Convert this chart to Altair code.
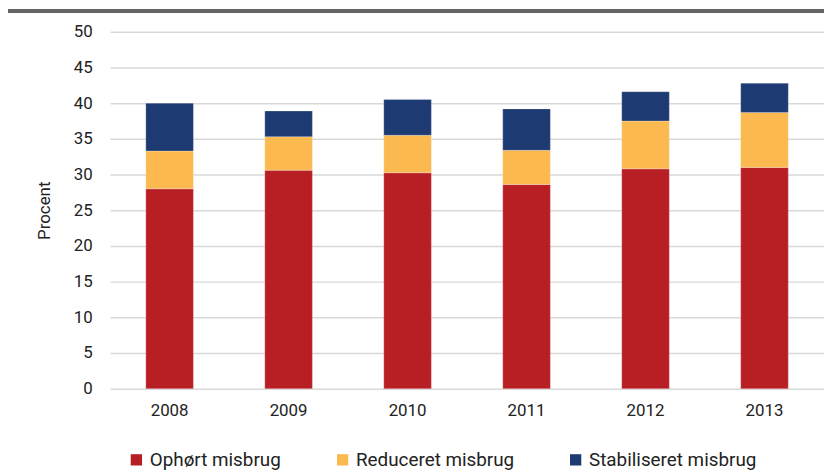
import altair as alt
import pandas as pd

years = ["2008", "2009", "2010", "2011", "2012", "2013"]
series = ["Ophørt misbrug", "Reduceret misbrug", "Stabiliseret misbrug"]
ophoert = [28.0, 30.6, 30.25, 28.6, 30.8, 31.0]
reduceret = [5.3, 4.7, 5.25, 4.8, 6.7, 7.7]
stabiliseret = [6.7, 3.6, 5.0, 5.8, 4.1, 4.1]
colors = ["#b71f24", "#fbb950", "#1d3b72"]

rows = []
for vals, name, k in zip([ophoert, reduceret, stabiliseret], series, range(3)):
    for y, v in zip(years, vals):
        rows.append({"year": y, "serie": name, "value": v, "ord": k})
df = pd.DataFrame(rows)

FONT = "Roboto"

bars = alt.Chart(df).mark_bar(stroke="white", strokeWidth=0.4, strokeOpacity=0.6).encode(
    x=alt.X("year:N", sort=years, title=None,
            scale=alt.Scale(paddingInner=0.6, paddingOuter=0.3),
            axis=alt.Axis(labelAngle=0, labelFont=FONT, labelFontSize=17,
                          labelColor="#222", labelPadding=14, ticks=False,
                          domain=False)),
    y=alt.Y("value:Q", title="Procent", stack="zero",
            scale=alt.Scale(domain=[0, 50]),
            axis=alt.Axis(values=list(range(0, 51, 5)), labelFont=FONT,
                          labelFontSize=17, labelColor="#222", labelPadding=18,
                          ticks=False, domain=False, gridColor="#d9d9d9",
                          gridWidth=1.5, titleFont=FONT, titleFontSize=17,
                          titleFontWeight="normal", titleColor="#222",
                          titlePadding=20)),
    color=alt.Color("serie:N", sort=series,
                    scale=alt.Scale(domain=series, range=colors),
                    legend=alt.Legend(title=None, orient="none", direction="horizontal",
                                      legendX=17, legendY=64 + 358, symbolType="square",
                                      symbolSize=130, symbolStrokeWidth=0,
                                      labelFont=FONT, labelFontSize=19,
                                      labelColor="#222", columnPadding=52,
                                      labelOffset=4, labelLimit=300)),
    order=alt.Order("ord:Q", sort="ascending"),
)

topline = alt.Chart(df).mark_rule(color="#666", strokeWidth=2.5).encode(
    x=alt.value(-103), x2=alt.value(721), y=alt.value(-21)
)

chart = alt.layer(bars, topline).properties(
    width=720, height=360,
    padding={"left": 103, "top": 22, "right": 0, "bottom": 80},
    autosize=alt.AutoSizeParams(type="none"),
).configure_view(stroke=None)

chart.save("out.html", embed_options={"renderer": "svg", "actions": False})
